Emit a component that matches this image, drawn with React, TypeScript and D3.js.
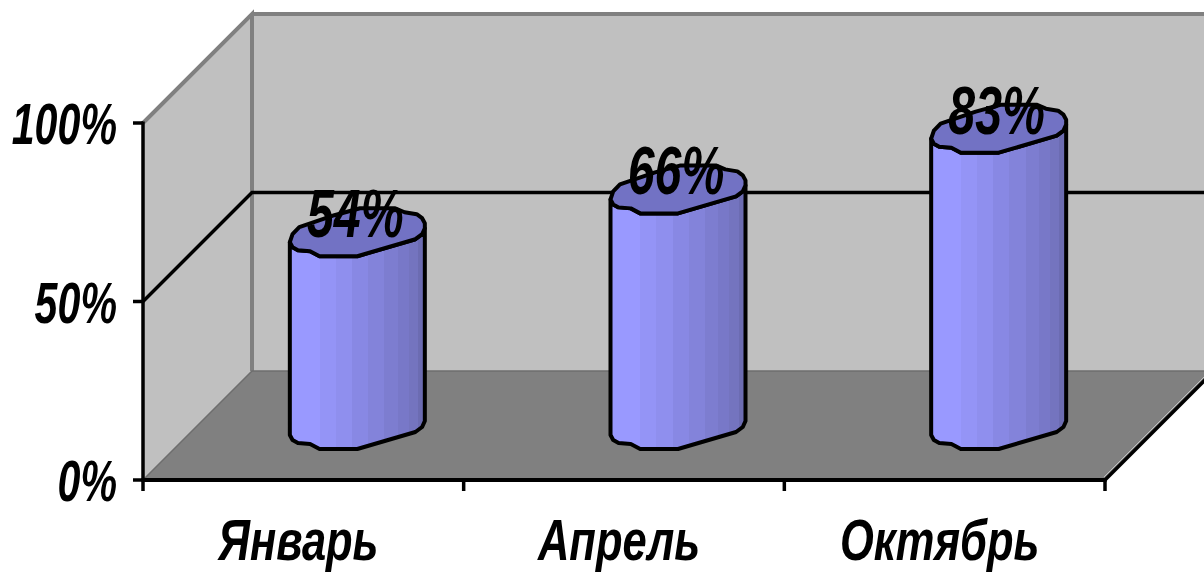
import React from "react";
import * as d3 from "d3";

const categories = ["Январь", "Апрель", "Октябрь"];
const values = [54, 66, 83];
const yTicks = [0, 50, 100];

const W = 1204, H = 572;
const x0 = 143, x1 = 1105, yBase = 480, yTop = 123, depth = 109;
const barWidth = 135, barFront = 31;
const font = "'Liberation Sans', Arial, sans-serif";

const x = d3.scaleBand<string>().domain(categories).range([x0, x1]);
const y = d3.scaleLinear().domain([0, 100]).range([yBase, yTop]);

// end-cap outlines, as fractions of the bar's width and pixels above its front edge
const frontEdge: [number, number][] = [[0, 14], [0.02, 9], [0.06, 6], [0.15, 5], [0.22, 0], [0.5, 0], [0.93, 17], [0.98, 22], [1, 28]];
const backEdge: [number, number][] = [[1, 33], [0.98, 38], [0.94, 42], [0.85, 44], [0.78, 48], [0.52, 48], [0.33, 41], [0.07, 29], [0.02, 22], [0, 14]];
const stripes = [0, 0.22, 0.34, 0.46, 0.58, 0.7, 0.8, 0.88, 0.95];
const stripeColors = ["#9999ff", "#9494f6", "#8f8fee", "#8888e4", "#8383da", "#7d7dd0", "#7878c8", "#7474bf", "#6c6cb2"];

const lineGen = d3.line<[number, number]>().x(d => d[0]).y(d => d[1]).curve(d3.curveLinear);

function Label({ cx, by, size, sx, children, anchor = "middle" }: any) {
  return (
    <text
      transform={`translate(${cx},${by}) scale(${sx},1)`}
      textAnchor={anchor}
      fontFamily={font}
      fontWeight="bold"
      fontStyle="italic"
      fontSize={size}
      fill="#000"
    >
      {children}
    </text>
  );
}

function Bar({ name, value }: { name: string; value: number }) {
  const left = x(name)! + x.bandwidth() / 2 + depth / 2 - barWidth / 2 - 0.5;
  const front = yBase - barFront;
  const h = y(0) - y(value);
  const px = (f: number) => left + f * barWidth;
  const topF = frontEdge.map(([f, u]) => [px(f), front - h - u] as [number, number]);
  const botF = frontEdge.map(([f, u]) => [px(f), front - u] as [number, number]);
  const topB = backEdge.map(([f, u]) => [px(f), front - h - u] as [number, number]);
  const body = lineGen([...topF, ...[...botF].reverse()])! + "Z";
  const cap = lineGen([...topF, ...topB])! + "Z";
  const id = "grad" + categories.indexOf(name);
  return (
    <g>
      <defs>
        <linearGradient id={id} x1="0" x2="1" y1="0" y2="0">
          {stripes.map((s, i) => (
            <React.Fragment key={i}>
              <stop offset={s} stopColor={stripeColors[i]} />
              <stop offset={i + 1 < stripes.length ? stripes[i + 1] : 1} stopColor={stripeColors[i]} />
            </React.Fragment>
          ))}
        </linearGradient>
      </defs>
      <path d={body} fill={`url(#${id})`} stroke="#000" strokeWidth={4} strokeLinejoin="round" />
      <path d={cap} fill="#7272c4" stroke="#000" strokeWidth={4} strokeLinejoin="round" />
    </g>
  );
}

export default function App() {
  const backB = yBase - depth;
  const backT = yTop - depth;
  const backL = x0 + depth;
  const backR = x1 + depth;
  const grid = yTicks.filter(t => t > 0 && t < 100);
  const tickX = [...categories.map(c => x(c)!), x1];
  return (
    <svg width={W} height={H} viewBox={`0 0 ${W} ${H}`} style={{ position: "absolute", left: 0, top: 0, background: "#fff" }}>
      <polygon points={`${x0},${yBase} ${x0},${yTop} ${backL},${backT} ${backL},${backB}`} fill="#c0c0c0" />
      <rect x={backL} y={backT} width={W - backL} height={backB - backT} fill="#c0c0c0" />
      <polygon points={`${x0},${yBase} ${backL},${backB} ${backR},${backB} ${x1},${yBase}`} fill="#808080" />
      <path d={`M${x0},${yTop}L${backL},${backT}V${backB}M${backL},${backT}H${W}`} fill="none" stroke="#808080" strokeWidth={4} />
      <path d={`M${x0},${yBase}L${backL},${backB}H${W}`} fill="none" stroke="#6e6e6e" strokeWidth={1.5} />
      <line x1={x1 - 1} y1={yBase - 3} x2={backR - 1} y2={backB - 3} stroke="#c0c0c0" strokeWidth={1} />
      {grid.map(t => (
        <path key={t} d={`M${x0},${y(t)}L${backL},${y(t) - depth}H${W}`} fill="none" stroke="#000" strokeWidth={3.5} />
      ))}
      <line x1={x1} y1={yBase} x2={backR} y2={backB} stroke="#000" strokeWidth={3.5} />
      {categories.map((c, i) => <Bar key={c} name={c} value={values[i]} />)}
      <line x1={x0} x2={x0} y1={yTop - 1.5} y2={yBase} stroke="#000" strokeWidth={3.5} />
      <line x1={x0 - 1.5} x2={x1 + 1.5} y1={yBase} y2={yBase} stroke="#000" strokeWidth={4} />
      {yTicks.map(t => <line key={t} x1={x0 - 10} x2={x0} y1={y(t)} y2={y(t)} stroke="#000" strokeWidth={3.5} />)}
      {tickX.map((tx, i) => <line key={i} x1={tx} x2={tx} y1={yBase} y2={yBase + 11} stroke="#000" strokeWidth={3.5} />)}
      {yTicks.map(t => (
        <Label key={t} cx={117} by={y(t) + 21} size={58} sx={0.71} anchor="end">{t}%</Label>
      ))}
      {categories.map(c => (
        <Label key={c} cx={x(c)! + x.bandwidth() / 2 - 5} by={559.5} size={58} sx={0.75}>{c}</Label>
      ))}
      {categories.map((c, i) => (
        <Label key={c} cx={x(c)! + x.bandwidth() / 2 + 52} by={y(values[i]) - 50} size={68} sx={0.71}>{values[i]}%</Label>
      ))}
    </svg>
  );
}
